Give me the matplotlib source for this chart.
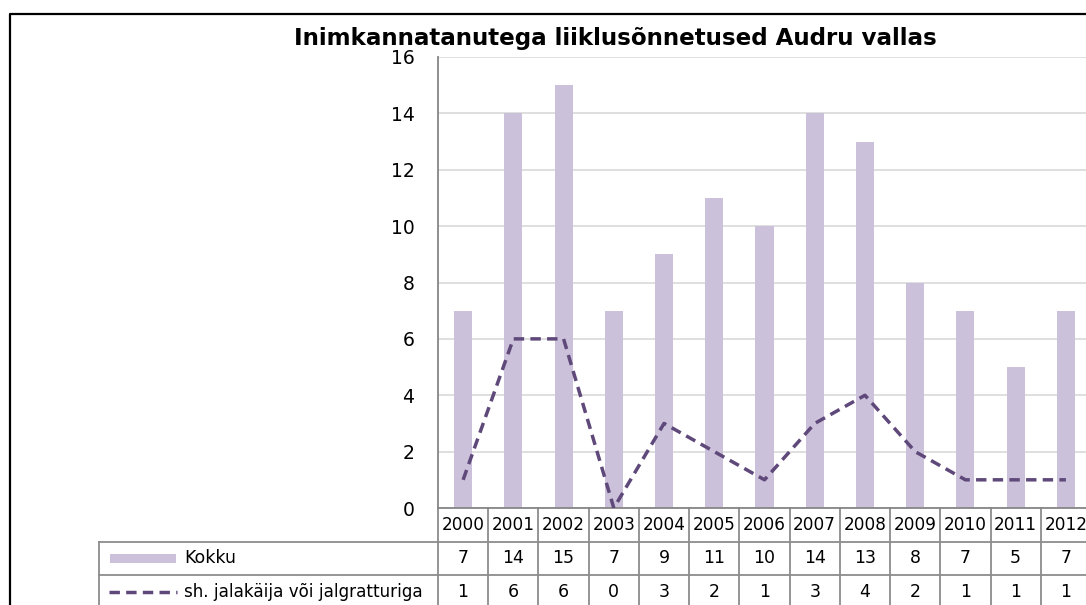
import matplotlib
matplotlib.use("Agg")
import matplotlib.pyplot as plt
import matplotlib.transforms as mtransforms
from matplotlib.patches import Rectangle
from matplotlib.lines import Line2D
import numpy as np

# ---------------------------------------------------------------------------
# Data
# ---------------------------------------------------------------------------
years = ["2000", "2001", "2002", "2003", "2004", "2005", "2006",
         "2007", "2008", "2009", "2010", "2011", "2012"]
kokku = [7, 14, 15, 7, 9, 11, 10, 14, 13, 8, 7, 5, 7]
jalakaija = [1, 6, 6, 0, 3, 2, 1, 3, 4, 2, 1, 1, 1]
series_names = ["Kokku", "sh. jalakäija või jalgratturiga"]
title = "Inimkannatanutega liiklusõnnetused Audru vallas"

BAR_C = "#CCC1DA"
LINE_C = "#5F497A"
GRID_C = "#D9D9D9"
TABLE_C = "#8C8C8C"

plt.rcParams["font.family"] = ["DejaVu Sans"]

W, H = 1086, 605
fig = plt.figure(figsize=(W / 100, H / 100), dpi=100)

def fx(px):
    return px / W

def fy(py):
    return 1 - py / H

# plot area in pixels (right edge is cropped off in the reference)
left, right, top, bottom = 438, 1091, 57, 508
ax = fig.add_axes([fx(left), fy(bottom), fx(right - left), (bottom - top) / H])

x = np.arange(len(years))
ax.bar(x, kokku, width=0.36, color=BAR_C, zorder=2)
ax.plot(x, jalakaija, color=LINE_C, lw=2.5, dashes=(3.0, 1.8), zorder=3,
        solid_capstyle="butt", dash_capstyle="butt")

ax.set_xlim(-0.5, len(years) - 0.5)
ax.set_ylim(0, 16)
ax.set_yticks(range(0, 17, 2))
ax.set_yticklabels([str(v) for v in range(0, 17, 2)], fontsize=13.5)
ax.tick_params(axis="y", length=0, pad=17)
ax.set_xticks([])
ax.yaxis.grid(True, color=GRID_C, lw=1.2, zorder=0)
ax.set_axisbelow(True)
for s in ["top", "right"]:
    ax.spines[s].set_visible(False)
for s in ["left", "bottom"]:
    ax.spines[s].set_color("#868686")
    ax.spines[s].set_linewidth(1.3)

# ---------------------------------------------------------------------------
# Data table below the axis
# ---------------------------------------------------------------------------
trans = mtransforms.blended_transform_factory(ax.transData, ax.transAxes)
ah = bottom - top
row_h = 33.5
rows = [0, -row_h / ah, -2 * row_h / ah, -3 * row_h / ah]
TS = 12.5

for i, yr in enumerate(years):
    ax.text(i, (rows[0] + rows[1]) / 2, yr, transform=trans, ha="center",
            va="center", fontsize=12.2, clip_on=False)
    ax.text(i, (rows[1] + rows[2]) / 2, str(kokku[i]), transform=trans,
            ha="center", va="center", fontsize=TS, clip_on=False)
    ax.text(i, (rows[2] + rows[3]) / 2, str(jalakaija[i]), transform=trans,
            ha="center", va="center", fontsize=TS, clip_on=False)

for b in np.arange(-0.5, len(years), 1.0):
    ax.add_line(Line2D([b, b], [rows[0], rows[3] - 0.05], transform=trans,
                       color=TABLE_C, lw=1.3, clip_on=False))
for r in rows[1:3]:
    ax.add_line(Line2D([-0.5, len(years)], [r, r], transform=trans,
                       color=TABLE_C, lw=1.3, clip_on=False))

# legend column of the table (figure pixel coordinates)
leg_l = 99
for r in rows[1:3]:
    py = bottom - r * ah
    fig.add_artist(Line2D([fx(leg_l), fx(left)], [fy(py), fy(py)],
                          color=TABLE_C, lw=1.3))
fig.add_artist(Line2D([fx(leg_l), fx(leg_l)], [fy(bottom + row_h), 0],
                      color=TABLE_C, lw=1.3))

y1 = bottom + 1.5 * row_h
y2 = bottom + 2.5 * row_h
fig.add_artist(Rectangle((fx(110), fy(y1 + 4.5)), fx(66), 9 / H,
                         color=BAR_C, lw=0))
fig.add_artist(Line2D([fx(109), fx(177)], [fy(y2), fy(y2)], color=LINE_C,
                      lw=2.5, dashes=(3.0, 1.8)))
fig.text(fx(184), fy(y1), series_names[0], fontsize=TS, va="center")
fig.text(fx(184), fy(y2), series_names[1], fontsize=12.1, va="center")

# title and outer chart border
fig.text(fx(615), fy(39), title, fontsize=16.6, fontweight="bold",
         ha="center", va="center")
fig.add_artist(Line2D([fx(10), fx(10), 1.01], [-0.01, fy(13.5), fy(13.5)],
                      color="black", lw=1.6))

fig.savefig("out.png", dpi=100)
